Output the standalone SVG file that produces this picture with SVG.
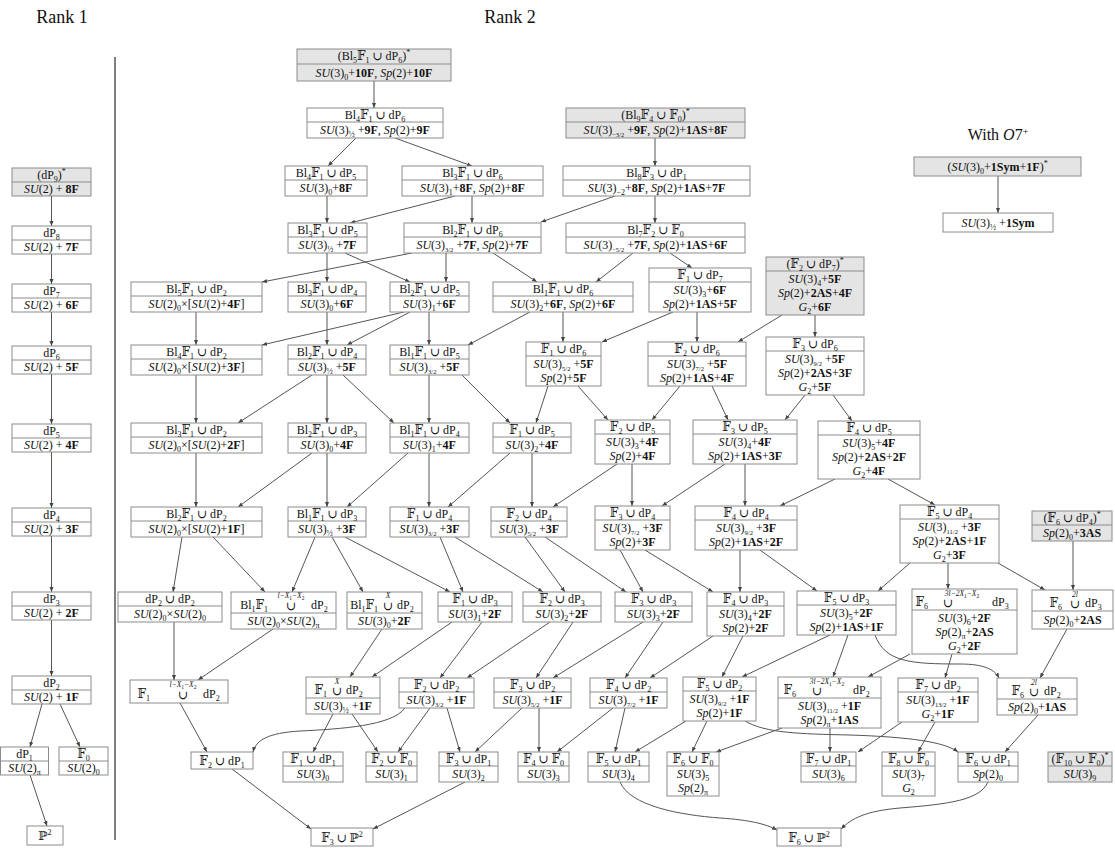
<svg xmlns="http://www.w3.org/2000/svg" width="1115" height="848" viewBox="0 0 1115 848">
<defs>
<style>
text{font-family:"Liberation Serif","DejaVu Serif",serif;font-size:12px;fill:#111;text-anchor:middle}
.box{fill:#fff;stroke:#8c8c8c;stroke-width:1}
.g{fill:#e4e4e4}
.sep{stroke:#8c8c8c;stroke-width:1}
.e{fill:none;stroke:#555;stroke-width:1;marker-end:url(#a)}
.i{font-style:italic}
.b{font-weight:bold}
.s{font-size:8px;baseline-shift:-3px}
.f{font-size:6.5px;baseline-shift:-3px}
.p{font-size:8px;baseline-shift:5px}
.c{font-size:7.5px;font-style:italic}
.q{font-size:5.5px;font-style:normal;baseline-shift:-1.5px}
.l{text-anchor:end}
.r{text-anchor:start}
.h{font-size:18px}
</style>
<marker id="a" viewBox="0 0 10 10" refX="10" refY="5" markerWidth="5" markerHeight="5" orient="auto"><path d="M0,1 L10,5 L0,9 z" fill="#444"/></marker>
</defs>
<rect width="1115" height="848" fill="#fff"/>
<g id="titles">
<text class="h" x="62" y="23">Rank 1</text>
<text class="h" x="510" y="23">Rank 2</text>
<text x="998" y="140" style="font-size:16px">With <tspan class="i">O</tspan>7<tspan class="p" style="font-size:10px">+</tspan></text>
<line x1="115" y1="57" x2="115" y2="840" stroke="#555" stroke-width="1.5"/>
</g>
<g id="edges">
<path class="e" d="M51.5,196V226"/>
<path class="e" d="M51.5,254V284"/>
<path class="e" d="M51.5,312V346"/>
<path class="e" d="M51.5,374V424"/>
<path class="e" d="M51.5,452V508"/>
<path class="e" d="M51.5,536V592"/>
<path class="e" d="M51.5,620V676"/>
<path class="e" d="M42,704L30,747"/>
<path class="e" d="M60,704L80,747"/>
<path class="e" d="M30,775L47,826"/>
<path class="e" d="M998,176V213"/>
<path class="e" d="M374,81V108"/>
<path class="e" d="M356,138L328,166"/>
<path class="e" d="M395,138L472,166"/>
<path class="e" d="M327,196V223"/>
<path class="e" d="M455,196L350,223"/>
<path class="e" d="M472,196V223"/>
<path class="e" d="M655,138V166"/>
<path class="e" d="M615,196L541,222"/>
<path class="e" d="M655,196V223"/>
<path class="e" d="M327,253V282"/>
<path class="e" d="M345,253L410,282"/>
<path class="e" d="M412,253L262,282"/>
<path class="e" d="M446,253V282"/>
<path class="e" d="M493,253L537,282"/>
<path class="e" d="M633,253L596,282"/>
<path class="e" d="M670,253L692,268"/>
<path class="e" d="M196,312V345"/>
<path class="e" d="M327,312V345"/>
<path class="e" d="M404,312L262,345"/>
<path class="e" d="M410,312L347,345"/>
<path class="e" d="M429,312V345"/>
<path class="e" d="M530,312L468,345"/>
<path class="e" d="M563,312V342"/>
<path class="e" d="M673,312L602,342"/>
<path class="e" d="M697,312V342"/>
<path class="e" d="M782,315L738,342"/>
<path class="e" d="M815,315V337"/>
<path class="e" d="M196,375V423"/>
<path class="e" d="M312,375L238,423"/>
<path class="e" d="M327,375V423"/>
<path class="e" d="M343,375L394,423"/>
<path class="e" d="M429,375V423"/>
<path class="e" d="M462,375L510,423"/>
<path class="e" d="M548,386L536,423"/>
<path class="e" d="M578,386L608,420"/>
<path class="e" d="M680,386L652,420"/>
<path class="e" d="M712,386L728,420"/>
<path class="e" d="M805,395L785,420"/>
<path class="e" d="M833,395L852,421"/>
<path class="e" d="M196,453V507"/>
<path class="e" d="M312,453L238,507"/>
<path class="e" d="M327,453V507"/>
<path class="e" d="M408,453L347,507"/>
<path class="e" d="M429,453V507"/>
<path class="e" d="M510,453L448,507"/>
<path class="e" d="M532,453V507"/>
<path class="e" d="M617,464L553,507"/>
<path class="e" d="M632,464V506"/>
<path class="e" d="M725,464L662,506"/>
<path class="e" d="M745,464V506"/>
<path class="e" d="M835,479L780,506"/>
<path class="e" d="M888,479L935,505"/>
<path class="e" d="M182,537L173,592"/>
<path class="e" d="M213,537L265,592"/>
<path class="e" d="M315,537L292,592"/>
<path class="e" d="M332,537L363,592"/>
<path class="e" d="M345,537L450,592"/>
<path class="e" d="M440,537L463,592"/>
<path class="e" d="M455,537L543,592"/>
<path class="e" d="M525,537L565,592"/>
<path class="e" d="M545,537L626,592"/>
<path class="e" d="M620,550L643,592"/>
<path class="e" d="M645,550L713,592"/>
<path class="e" d="M740,550V592"/>
<path class="e" d="M760,550L817,591"/>
<path class="e" d="M910,563L878,591"/>
<path class="e" d="M948,563V589"/>
<path class="e" d="M998,563L1045,590"/>
<path class="e" d="M1073,541V590"/>
<path class="e" d="M174,622V680"/>
<path class="e" d="M273,629L198,680"/>
<path class="e" d="M382,629L350,677"/>
<path class="e" d="M452,622L372,677"/>
<path class="e" d="M482,622L440,678"/>
<path class="e" d="M550,622L467,678"/>
<path class="e" d="M573,622L536,678"/>
<path class="e" d="M643,622L553,678"/>
<path class="e" d="M663,622L625,678"/>
<path class="e" d="M713,636L650,678"/>
<path class="e" d="M743,636L722,677"/>
<path class="e" d="M830,635L742,677"/>
<path class="e" d="M848,635L833,677"/>
<path class="e" d="M875,635C885,662 910,664 960,664C985,664 995,670 999,678"/>
<path class="e" d="M910,654L868,677"/>
<path class="e" d="M952,654L945,678"/>
<path class="e" d="M1067,629L1040,678"/>
<path class="e" d="M180,703L207,752"/>
<path class="e" d="M405,708C392,726 340,729 300,731C268,733 256,740 253,752"/>
<path class="e" d="M333,714L313,752"/>
<path class="e" d="M352,714L378,752"/>
<path class="e" d="M430,708L398,752"/>
<path class="e" d="M447,708L460,752"/>
<path class="e" d="M522,708L475,752"/>
<path class="e" d="M539,708V752"/>
<path class="e" d="M613,708L557,752"/>
<path class="e" d="M625,708L615,752"/>
<path class="e" d="M686,721L635,752"/>
<path class="e" d="M707,721L692,752"/>
<path class="e" d="M745,721C765,733 800,734 850,735C910,737 945,742 958,752"/>
<path class="e" d="M782,728L716,752"/>
<path class="e" d="M830,728V752"/>
<path class="e" d="M902,722L858,752"/>
<path class="e" d="M935,722L918,752"/>
<path class="e" d="M1038,715L1005,752"/>
<path class="e" d="M232,769L311,829"/>
<path class="e" d="M465,782L373,829"/>
<path class="e" d="M620,782C630,806 680,815 720,818C750,820 766,824 777,830"/>
<path class="e" d="M988,782C980,800 950,804 900,808C866,811 852,818 841,829"/>
</g>
<g id="rank1">
<g id="dP9"><rect class="box g" x="12" y="168" width="79" height="28"/><line class="sep" x1="12" y1="182" x2="91" y2="182"/><text x="51.5" y="179">(dP<tspan class="s">9</tspan>)<tspan class="p">*</tspan></text><text x="51.5" y="193"><tspan class="i">SU</tspan>(2) + <tspan class="b">8F</tspan></text></g>
<g id="dP8"><rect class="box" x="12" y="226" width="79" height="28"/><line class="sep" x1="12" y1="240" x2="91" y2="240"/><text x="51.5" y="237">dP<tspan class="s">8</tspan></text><text x="51.5" y="251"><tspan class="i">SU</tspan>(2) + <tspan class="b">7F</tspan></text></g>
<g id="dP7"><rect class="box" x="12" y="284" width="79" height="28"/><line class="sep" x1="12" y1="298" x2="91" y2="298"/><text x="51.5" y="295">dP<tspan class="s">7</tspan></text><text x="51.5" y="309"><tspan class="i">SU</tspan>(2) + <tspan class="b">6F</tspan></text></g>
<g id="dP6"><rect class="box" x="12" y="346" width="79" height="28"/><line class="sep" x1="12" y1="360" x2="91" y2="360"/><text x="51.5" y="357">dP<tspan class="s">6</tspan></text><text x="51.5" y="371"><tspan class="i">SU</tspan>(2) + <tspan class="b">5F</tspan></text></g>
<g id="dP5"><rect class="box" x="12" y="424" width="79" height="28"/><line class="sep" x1="12" y1="438" x2="91" y2="438"/><text x="51.5" y="435">dP<tspan class="s">5</tspan></text><text x="51.5" y="449"><tspan class="i">SU</tspan>(2) + <tspan class="b">4F</tspan></text></g>
<g id="dP4"><rect class="box" x="12" y="508" width="79" height="28"/><line class="sep" x1="12" y1="522" x2="91" y2="522"/><text x="51.5" y="519">dP<tspan class="s">4</tspan></text><text x="51.5" y="533"><tspan class="i">SU</tspan>(2) + <tspan class="b">3F</tspan></text></g>
<g id="dP3"><rect class="box" x="12" y="592" width="79" height="28"/><line class="sep" x1="12" y1="606" x2="91" y2="606"/><text x="51.5" y="603">dP<tspan class="s">3</tspan></text><text x="51.5" y="617"><tspan class="i">SU</tspan>(2) + <tspan class="b">2F</tspan></text></g>
<g id="dP2"><rect class="box" x="12" y="676" width="79" height="28"/><line class="sep" x1="12" y1="690" x2="91" y2="690"/><text x="51.5" y="687">dP<tspan class="s">2</tspan></text><text x="51.5" y="701"><tspan class="i">SU</tspan>(2) + <tspan class="b">1F</tspan></text></g>
<g id="dP1"><rect class="box" x="0.5" y="747" width="48" height="28"/><line class="sep" x1="0.5" y1="761" x2="48.5" y2="761"/><text x="24.5" y="758">dP<tspan class="s">1</tspan></text><text x="24.5" y="772"><tspan class="i">SU</tspan>(2)<tspan class="s">π</tspan></text></g>
<g id="F0"><rect class="box" x="59" y="747" width="49" height="28"/><line class="sep" x1="59" y1="761" x2="108" y2="761"/><text x="83.5" y="758">𝔽<tspan class="s">0</tspan></text><text x="83.5" y="772"><tspan class="i">SU</tspan>(2)<tspan class="s">0</tspan></text></g>
<g id="P2r1"><rect class="box" x="27" y="826" width="36" height="19"/><text x="45" y="840">ℙ<tspan class="p">2</tspan></text></g>
</g>
<g id="o7">
<g id="o7a"><rect class="box g" x="914" y="157" width="167" height="19"/><text x="997.5" y="171">(<tspan class="i">SU</tspan>(3)<tspan class="s">0</tspan>+<tspan class="b">1Sym</tspan>+<tspan class="b">1F</tspan>)<tspan class="p">*</tspan></text></g>
<g id="o7b"><rect class="box" x="943" y="213" width="110" height="19"/><text x="998" y="227"><tspan class="i">SU</tspan>(3)<tspan class="s">½</tspan> +<tspan class="b">1Sym</tspan></text></g>
</g>
<g id="rank2">
<g id="N1"><rect class="box g" x="297" y="49" width="154" height="32"/><line class="sep" x1="297" y1="64" x2="451" y2="64"/><text x="374" y="60">(Bl<tspan class="s">5</tspan>𝔽<tspan class="s">1</tspan> ∪ dP<tspan class="s">6</tspan>)<tspan class="p">*</tspan></text><text x="374" y="77"><tspan class="i">SU</tspan>(3)<tspan class="s">0</tspan>+<tspan class="b">10F</tspan>, <tspan class="i">Sp</tspan>(2)+<tspan class="b">10F</tspan></text></g>
<g id="N2"><rect class="box" x="307" y="108" width="136" height="30"/><line class="sep" x1="307" y1="122" x2="443" y2="122"/><text x="375" y="119">Bl<tspan class="s">4</tspan>𝔽<tspan class="s">1</tspan> ∪ dP<tspan class="s">6</tspan></text><text x="375" y="134"><tspan class="i">SU</tspan>(3)<tspan class="s">½</tspan> +<tspan class="b">9F</tspan>, <tspan class="i">Sp</tspan>(2)+<tspan class="b">9F</tspan></text></g>
<g id="N3"><rect class="box" x="285" y="166" width="82" height="30"/><line class="sep" x1="285" y1="180" x2="367" y2="180"/><text x="326" y="177">Bl<tspan class="s">4</tspan>𝔽<tspan class="s">1</tspan> ∪ dP<tspan class="s">5</tspan></text><text x="326" y="192"><tspan class="i">SU</tspan>(3)<tspan class="s">0</tspan>+<tspan class="b">8F</tspan></text></g>
<g id="N4"><rect class="box" x="402" y="166" width="141" height="30"/><line class="sep" x1="402" y1="180" x2="543" y2="180"/><text x="472.5" y="177">Bl<tspan class="s">3</tspan>𝔽<tspan class="s">1</tspan> ∪ dP<tspan class="s">6</tspan></text><text x="472.5" y="192"><tspan class="i">SU</tspan>(3)<tspan class="s">1</tspan>+<tspan class="b">8F</tspan>, <tspan class="i">Sp</tspan>(2)+<tspan class="b">8F</tspan></text></g>
<g id="N5"><rect class="box" x="288" y="223" width="79" height="30"/><line class="sep" x1="288" y1="237" x2="367" y2="237"/><text x="327.5" y="234">Bl<tspan class="s">3</tspan>𝔽<tspan class="s">1</tspan> ∪ dP<tspan class="s">5</tspan></text><text x="327.5" y="249"><tspan class="i">SU</tspan>(3)<tspan class="s">½</tspan> +<tspan class="b">7F</tspan></text></g>
<g id="N6"><rect class="box" x="404" y="223" width="137" height="30"/><line class="sep" x1="404" y1="237" x2="541" y2="237"/><text x="472.5" y="234">Bl<tspan class="s">2</tspan>𝔽<tspan class="s">1</tspan> ∪ dP<tspan class="s">6</tspan></text><text x="472.5" y="249"><tspan class="i">SU</tspan>(3)<tspan class="f">3/2</tspan> +<tspan class="b">7F</tspan>, <tspan class="i">Sp</tspan>(2)+<tspan class="b">7F</tspan></text></g>
<g id="O1"><rect class="box g" x="566" y="108" width="179" height="30"/><line class="sep" x1="566" y1="122" x2="745" y2="122"/><text x="655.5" y="119">(Bl<tspan class="s">9</tspan>𝔽<tspan class="s">4</tspan> ∪ 𝔽<tspan class="s">0</tspan>)<tspan class="p">*</tspan></text><text x="655.5" y="134"><tspan class="i">SU</tspan>(3)<tspan class="f">−3/2</tspan> +<tspan class="b">9F</tspan>, <tspan class="i">Sp</tspan>(2)+<tspan class="b">1AS</tspan>+<tspan class="b">8F</tspan></text></g>
<g id="O2"><rect class="box" x="563" y="166" width="187" height="30"/><line class="sep" x1="563" y1="180" x2="750" y2="180"/><text x="656.5" y="177">Bl<tspan class="s">8</tspan>𝔽<tspan class="s">3</tspan> ∪ dP<tspan class="s">1</tspan></text><text x="656.5" y="192"><tspan class="i">SU</tspan>(3)<tspan class="s">−2</tspan>+<tspan class="b">8F</tspan>, <tspan class="i">Sp</tspan>(2)+<tspan class="b">1AS</tspan>+<tspan class="b">7F</tspan></text></g>
<g id="O3"><rect class="box" x="566" y="223" width="179" height="30"/><line class="sep" x1="566" y1="237" x2="745" y2="237"/><text x="655.5" y="234">Bl<tspan class="s">7</tspan>𝔽<tspan class="s">2</tspan> ∪ 𝔽<tspan class="s">0</tspan></text><text x="655.5" y="249"><tspan class="i">SU</tspan>(3)<tspan class="f">−5/2</tspan> +<tspan class="b">7F</tspan>, <tspan class="i">Sp</tspan>(2)+<tspan class="b">1AS</tspan>+<tspan class="b">6F</tspan></text></g>
<g id="P1"><rect class="box" x="131" y="282" width="131" height="30"/><line class="sep" x1="131" y1="296" x2="262" y2="296"/><text x="196.5" y="293">Bl<tspan class="s">5</tspan>𝔽<tspan class="s">1</tspan> ∪ dP<tspan class="s">2</tspan></text><text x="196.5" y="308"><tspan class="i">SU</tspan>(2)<tspan class="s">0</tspan>×[<tspan class="i">SU</tspan>(2)+<tspan class="b">4F</tspan>]</text></g>
<g id="P2"><rect class="box" x="288" y="282" width="78" height="30"/><line class="sep" x1="288" y1="296" x2="366" y2="296"/><text x="327" y="293">Bl<tspan class="s">3</tspan>𝔽<tspan class="s">1</tspan> ∪ dP<tspan class="s">4</tspan></text><text x="327" y="308"><tspan class="i">SU</tspan>(3)<tspan class="s">0</tspan>+<tspan class="b">6F</tspan></text></g>
<g id="P3"><rect class="box" x="390" y="282" width="79" height="30"/><line class="sep" x1="390" y1="296" x2="469" y2="296"/><text x="429.5" y="293">Bl<tspan class="s">2</tspan>𝔽<tspan class="s">1</tspan> ∪ dP<tspan class="s">5</tspan></text><text x="429.5" y="308"><tspan class="i">SU</tspan>(3)<tspan class="s">1</tspan>+<tspan class="b">6F</tspan></text></g>
<g id="P4"><rect class="box" x="493" y="282" width="140" height="30"/><line class="sep" x1="493" y1="296" x2="633" y2="296"/><text x="563" y="293">Bl<tspan class="s">1</tspan>𝔽<tspan class="s">1</tspan> ∪ dP<tspan class="s">6</tspan></text><text x="563" y="308"><tspan class="i">SU</tspan>(3)<tspan class="s">2</tspan>+<tspan class="b">6F</tspan>, <tspan class="i">Sp</tspan>(2)+<tspan class="b">6F</tspan></text></g>
<g id="P5"><rect class="box" x="649" y="268" width="102" height="44"/><line class="sep" x1="649" y1="282" x2="751" y2="282"/><text x="700" y="279">𝔽<tspan class="s">1</tspan> ∪ dP<tspan class="s">7</tspan></text><text x="700" y="294"><tspan class="i">SU</tspan>(3)<tspan class="s">3</tspan>+<tspan class="b">6F</tspan></text><text x="700" y="308"><tspan class="i">Sp</tspan>(2)+<tspan class="b">1AS</tspan>+<tspan class="b">5F</tspan></text></g>
<g id="P6"><rect class="box g" x="766" y="257" width="98" height="58"/><line class="sep" x1="766" y1="271" x2="864" y2="271"/><text x="815" y="268">(𝔽<tspan class="s">2</tspan> ∪ dP<tspan class="s">7</tspan>)<tspan class="p">*</tspan></text><text x="815" y="283"><tspan class="i">SU</tspan>(3)<tspan class="s">4</tspan>+<tspan class="b">5F</tspan></text><text x="815" y="297"><tspan class="i">Sp</tspan>(2)+<tspan class="b">2AS</tspan>+<tspan class="b">4F</tspan></text><text x="815" y="311"><tspan class="i">G</tspan><tspan class="s">2</tspan>+<tspan class="b">6F</tspan></text></g>
<g id="Q1"><rect class="box" x="131" y="345" width="131" height="30"/><line class="sep" x1="131" y1="359" x2="262" y2="359"/><text x="196.5" y="356">Bl<tspan class="s">4</tspan>𝔽<tspan class="s">1</tspan> ∪ dP<tspan class="s">2</tspan></text><text x="196.5" y="371"><tspan class="i">SU</tspan>(2)<tspan class="s">0</tspan>×[<tspan class="i">SU</tspan>(2)+<tspan class="b">3F</tspan>]</text></g>
<g id="Q2"><rect class="box" x="288" y="345" width="78" height="30"/><line class="sep" x1="288" y1="359" x2="366" y2="359"/><text x="327" y="356">Bl<tspan class="s">2</tspan>𝔽<tspan class="s">1</tspan> ∪ dP<tspan class="s">4</tspan></text><text x="327" y="371"><tspan class="i">SU</tspan>(3)<tspan class="s">½</tspan> +<tspan class="b">5F</tspan></text></g>
<g id="Q3"><rect class="box" x="390" y="345" width="79" height="30"/><line class="sep" x1="390" y1="359" x2="469" y2="359"/><text x="429.5" y="356">Bl<tspan class="s">1</tspan>𝔽<tspan class="s">1</tspan> ∪ dP<tspan class="s">5</tspan></text><text x="429.5" y="371"><tspan class="i">SU</tspan>(3)<tspan class="f">3/2</tspan> +<tspan class="b">5F</tspan></text></g>
<g id="Q4"><rect class="box" x="526" y="342" width="75" height="44"/><line class="sep" x1="526" y1="356" x2="601" y2="356"/><text x="563.5" y="353">𝔽<tspan class="s">1</tspan> ∪ dP<tspan class="s">6</tspan></text><text x="563.5" y="368"><tspan class="i">SU</tspan>(3)<tspan class="f">5/2</tspan> +<tspan class="b">5F</tspan></text><text x="563.5" y="382"><tspan class="i">Sp</tspan>(2)+<tspan class="b">5F</tspan></text></g>
<g id="Q5"><rect class="box" x="648" y="342" width="98" height="44"/><line class="sep" x1="648" y1="356" x2="746" y2="356"/><text x="697" y="353">𝔽<tspan class="s">2</tspan> ∪ dP<tspan class="s">6</tspan></text><text x="697" y="368"><tspan class="i">SU</tspan>(3)<tspan class="f">7/2</tspan> +<tspan class="b">5F</tspan></text><text x="697" y="382"><tspan class="i">Sp</tspan>(2)+<tspan class="b">1AS</tspan>+<tspan class="b">4F</tspan></text></g>
<g id="Q6"><rect class="box" x="766" y="337" width="98" height="58"/><line class="sep" x1="766" y1="351" x2="864" y2="351"/><text x="815" y="348">𝔽<tspan class="s">3</tspan> ∪ dP<tspan class="s">6</tspan></text><text x="815" y="363"><tspan class="i">SU</tspan>(3)<tspan class="f">9/2</tspan> +<tspan class="b">5F</tspan></text><text x="815" y="377"><tspan class="i">Sp</tspan>(2)+<tspan class="b">2AS</tspan>+<tspan class="b">3F</tspan></text><text x="815" y="391"><tspan class="i">G</tspan><tspan class="s">2</tspan>+<tspan class="b">5F</tspan></text></g>
<g id="R1"><rect class="box" x="131" y="423" width="131" height="30"/><line class="sep" x1="131" y1="437" x2="262" y2="437"/><text x="196.5" y="434">Bl<tspan class="s">3</tspan>𝔽<tspan class="s">1</tspan> ∪ dP<tspan class="s">2</tspan></text><text x="196.5" y="449"><tspan class="i">SU</tspan>(2)<tspan class="s">0</tspan>×[<tspan class="i">SU</tspan>(2)+<tspan class="b">2F</tspan>]</text></g>
<g id="R2"><rect class="box" x="288" y="423" width="78" height="30"/><line class="sep" x1="288" y1="437" x2="366" y2="437"/><text x="327" y="434">Bl<tspan class="s">2</tspan>𝔽<tspan class="s">1</tspan> ∪ dP<tspan class="s">3</tspan></text><text x="327" y="449"><tspan class="i">SU</tspan>(3)<tspan class="s">0</tspan>+<tspan class="b">4F</tspan></text></g>
<g id="R3"><rect class="box" x="390" y="423" width="79" height="30"/><line class="sep" x1="390" y1="437" x2="469" y2="437"/><text x="429.5" y="434">Bl<tspan class="s">1</tspan>𝔽<tspan class="s">1</tspan> ∪ dP<tspan class="s">4</tspan></text><text x="429.5" y="449"><tspan class="i">SU</tspan>(3)<tspan class="s">1</tspan>+<tspan class="b">4F</tspan></text></g>
<g id="R4"><rect class="box" x="493" y="423" width="78" height="30"/><line class="sep" x1="493" y1="437" x2="571" y2="437"/><text x="532" y="434">𝔽<tspan class="s">1</tspan> ∪ dP<tspan class="s">5</tspan></text><text x="532" y="449"><tspan class="i">SU</tspan>(3)<tspan class="s">2</tspan>+<tspan class="b">4F</tspan></text></g>
<g id="R5"><rect class="box" x="595" y="420" width="75" height="44"/><line class="sep" x1="595" y1="434" x2="670" y2="434"/><text x="632.5" y="431">𝔽<tspan class="s">2</tspan> ∪ dP<tspan class="s">5</tspan></text><text x="632.5" y="446"><tspan class="i">SU</tspan>(3)<tspan class="s">3</tspan>+<tspan class="b">4F</tspan></text><text x="632.5" y="460"><tspan class="i">Sp</tspan>(2)+<tspan class="b">4F</tspan></text></g>
<g id="R6"><rect class="box" x="693" y="420" width="104" height="44"/><line class="sep" x1="693" y1="434" x2="797" y2="434"/><text x="745" y="431">𝔽<tspan class="s">3</tspan> ∪ dP<tspan class="s">5</tspan></text><text x="745" y="446"><tspan class="i">SU</tspan>(3)<tspan class="s">4</tspan>+<tspan class="b">4F</tspan></text><text x="745" y="460"><tspan class="i">Sp</tspan>(2)+<tspan class="b">1AS</tspan>+<tspan class="b">3F</tspan></text></g>
<g id="R7"><rect class="box" x="818" y="421" width="102" height="58"/><line class="sep" x1="818" y1="435" x2="920" y2="435"/><text x="869" y="432">𝔽<tspan class="s">4</tspan> ∪ dP<tspan class="s">5</tspan></text><text x="869" y="447"><tspan class="i">SU</tspan>(3)<tspan class="s">5</tspan>+<tspan class="b">4F</tspan></text><text x="869" y="461"><tspan class="i">Sp</tspan>(2)+<tspan class="b">2AS</tspan>+<tspan class="b">2F</tspan></text><text x="869" y="475"><tspan class="i">G</tspan><tspan class="s">2</tspan>+<tspan class="b">4F</tspan></text></g>
<g id="S1"><rect class="box" x="131" y="507" width="131" height="30"/><line class="sep" x1="131" y1="521" x2="262" y2="521"/><text x="196.5" y="518">Bl<tspan class="s">2</tspan>𝔽<tspan class="s">1</tspan> ∪ dP<tspan class="s">2</tspan></text><text x="196.5" y="533"><tspan class="i">SU</tspan>(2)<tspan class="s">0</tspan>×[<tspan class="i">SU</tspan>(2)+<tspan class="b">1F</tspan>]</text></g>
<g id="S2"><rect class="box" x="288" y="507" width="78" height="30"/><line class="sep" x1="288" y1="521" x2="366" y2="521"/><text x="327" y="518">Bl<tspan class="s">1</tspan>𝔽<tspan class="s">1</tspan> ∪ dP<tspan class="s">3</tspan></text><text x="327" y="533"><tspan class="i">SU</tspan>(3)<tspan class="s">½</tspan> +<tspan class="b">3F</tspan></text></g>
<g id="S3"><rect class="box" x="390" y="507" width="79" height="30"/><line class="sep" x1="390" y1="521" x2="469" y2="521"/><text x="429.5" y="518">𝔽<tspan class="s">1</tspan> ∪ dP<tspan class="s">4</tspan></text><text x="429.5" y="533"><tspan class="i">SU</tspan>(3)<tspan class="f">3/2</tspan> +<tspan class="b">3F</tspan></text></g>
<g id="S4"><rect class="box" x="491" y="507" width="76" height="30"/><line class="sep" x1="491" y1="521" x2="567" y2="521"/><text x="529" y="518">𝔽<tspan class="s">2</tspan> ∪ dP<tspan class="s">4</tspan></text><text x="529" y="533"><tspan class="i">SU</tspan>(3)<tspan class="f">5/2</tspan> +<tspan class="b">3F</tspan></text></g>
<g id="S5"><rect class="box" x="595" y="506" width="75" height="44"/><line class="sep" x1="595" y1="520" x2="670" y2="520"/><text x="632.5" y="517">𝔽<tspan class="s">3</tspan> ∪ dP<tspan class="s">4</tspan></text><text x="632.5" y="532"><tspan class="i">SU</tspan>(3)<tspan class="f">7/2</tspan> +<tspan class="b">3F</tspan></text><text x="632.5" y="546"><tspan class="i">Sp</tspan>(2)+<tspan class="b">3F</tspan></text></g>
<g id="S6"><rect class="box" x="695" y="506" width="102" height="44"/><line class="sep" x1="695" y1="520" x2="797" y2="520"/><text x="746" y="517">𝔽<tspan class="s">4</tspan> ∪ dP<tspan class="s">4</tspan></text><text x="746" y="532"><tspan class="i">SU</tspan>(3)<tspan class="f">9/2</tspan> +<tspan class="b">3F</tspan></text><text x="746" y="546"><tspan class="i">Sp</tspan>(2)+<tspan class="b">1AS</tspan>+<tspan class="b">2F</tspan></text></g>
<g id="S7"><rect class="box" x="900" y="505" width="99" height="58"/><line class="sep" x1="900" y1="519" x2="999" y2="519"/><text x="949.5" y="516">𝔽<tspan class="s">5</tspan> ∪ dP<tspan class="s">4</tspan></text><text x="949.5" y="531"><tspan class="i">SU</tspan>(3)<tspan class="f">11/2</tspan> +<tspan class="b">3F</tspan></text><text x="949.5" y="545"><tspan class="i">Sp</tspan>(2)+<tspan class="b">2AS</tspan>+<tspan class="b">1F</tspan></text><text x="949.5" y="559"><tspan class="i">G</tspan><tspan class="s">2</tspan>+<tspan class="b">3F</tspan></text></g>
<g id="S8"><rect class="box g" x="1032" y="511" width="80" height="30"/><line class="sep" x1="1032" y1="525" x2="1112" y2="525"/><text x="1072" y="522">(𝔽<tspan class="s">6</tspan> ∪ dP<tspan class="s">4</tspan>)<tspan class="p">*</tspan></text><text x="1072" y="537"><tspan class="i">Sp</tspan>(2)<tspan class="s">0</tspan>+<tspan class="b">3AS</tspan></text></g>
<g id="T1"><rect class="box" x="118" y="592" width="104" height="30"/><line class="sep" x1="118" y1="606" x2="222" y2="606"/><text x="170" y="603">dP<tspan class="s">2</tspan> ∪ dP<tspan class="s">2</tspan></text><text x="170" y="618"><tspan class="i">SU</tspan>(2)<tspan class="s">0</tspan>×<tspan class="i">SU</tspan>(2)<tspan class="s">0</tspan></text></g>
<g id="T2"><rect class="box" x="231" y="592" width="105" height="37"/><line class="sep" x1="231" y1="613" x2="336" y2="613"/><text class="l" x="268" y="609">Bl<tspan class="s">1</tspan>𝔽<tspan class="s">1</tspan></text><text class="c" x="291" y="598">l−X<tspan class="q">1</tspan>−X<tspan class="q">2</tspan></text><text x="291" y="610">∪</text><text class="r" x="311" y="609">dP<tspan class="s">2</tspan></text><text x="283.5" y="625"><tspan class="i">SU</tspan>(2)<tspan class="s">0</tspan>×<tspan class="i">SU</tspan>(2)<tspan class="s">π</tspan></text></g>
<g id="T3"><rect class="box" x="347" y="592" width="75" height="37"/><line class="sep" x1="347" y1="613" x2="422" y2="613"/><text class="l" x="378" y="609">Bl<tspan class="s">1</tspan>𝔽<tspan class="s">1</tspan></text><text class="c" x="388" y="598">X</text><text x="388" y="610">∪</text><text class="r" x="397" y="609">dP<tspan class="s">2</tspan></text><text x="384.5" y="625"><tspan class="i">SU</tspan>(3)<tspan class="s">0</tspan>+<tspan class="b">2F</tspan></text></g>
<g id="T4"><rect class="box" x="438" y="592" width="74" height="30"/><line class="sep" x1="438" y1="606" x2="512" y2="606"/><text x="475" y="603">𝔽<tspan class="s">1</tspan> ∪ dP<tspan class="s">3</tspan></text><text x="475" y="618"><tspan class="i">SU</tspan>(3)<tspan class="s">1</tspan>+<tspan class="b">2F</tspan></text></g>
<g id="T5"><rect class="box" x="523" y="592" width="78" height="30"/><line class="sep" x1="523" y1="606" x2="601" y2="606"/><text x="562" y="603">𝔽<tspan class="s">2</tspan> ∪ dP<tspan class="s">3</tspan></text><text x="562" y="618"><tspan class="i">SU</tspan>(3)<tspan class="s">2</tspan>+<tspan class="b">2F</tspan></text></g>
<g id="T6"><rect class="box" x="615" y="592" width="77" height="30"/><line class="sep" x1="615" y1="606" x2="692" y2="606"/><text x="653.5" y="603">𝔽<tspan class="s">3</tspan> ∪ dP<tspan class="s">3</tspan></text><text x="653.5" y="618"><tspan class="i">SU</tspan>(3)<tspan class="s">3</tspan>+<tspan class="b">2F</tspan></text></g>
<g id="T7"><rect class="box" x="707" y="592" width="77" height="44"/><line class="sep" x1="707" y1="606" x2="784" y2="606"/><text x="745.5" y="603">𝔽<tspan class="s">4</tspan> ∪ dP<tspan class="s">3</tspan></text><text x="745.5" y="618"><tspan class="i">SU</tspan>(3)<tspan class="s">4</tspan>+<tspan class="b">2F</tspan></text><text x="745.5" y="632"><tspan class="i">Sp</tspan>(2)+<tspan class="b">2F</tspan></text></g>
<g id="T8"><rect class="box" x="797" y="591" width="99" height="44"/><line class="sep" x1="797" y1="605" x2="896" y2="605"/><text x="846.5" y="602">𝔽<tspan class="s">5</tspan> ∪ dP<tspan class="s">3</tspan></text><text x="846.5" y="617"><tspan class="i">SU</tspan>(3)<tspan class="s">5</tspan>+<tspan class="b">2F</tspan></text><text x="846.5" y="631"><tspan class="i">Sp</tspan>(2)+<tspan class="b">1AS</tspan>+<tspan class="b">1F</tspan></text></g>
<g id="T9"><rect class="box" x="912" y="589" width="105" height="65"/><line class="sep" x1="912" y1="610" x2="1017" y2="610"/><text class="l" x="928" y="606">𝔽<tspan class="s">6</tspan></text><text class="c" x="962" y="596">3l−2X<tspan class="q">1</tspan>−X<tspan class="q">2</tspan></text><text x="948" y="607">∪</text><text class="r" x="992" y="606">dP<tspan class="s">3</tspan></text><text x="964.5" y="622"><tspan class="i">SU</tspan>(3)<tspan class="s">6</tspan>+<tspan class="b">2F</tspan></text><text x="964.5" y="636"><tspan class="i">Sp</tspan>(2)<tspan class="s">π</tspan>+<tspan class="b">2AS</tspan></text><text x="964.5" y="650"><tspan class="i">G</tspan><tspan class="s">2</tspan>+<tspan class="b">2F</tspan></text></g>
<g id="T10"><rect class="box" x="1032" y="590" width="81" height="39"/><line class="sep" x1="1032" y1="611" x2="1113" y2="611"/><text class="l" x="1062" y="607">𝔽<tspan class="s">6</tspan></text><text class="c" x="1075" y="597">2l</text><text x="1075" y="608">∪</text><text class="r" x="1085" y="607">dP<tspan class="s">3</tspan></text><text x="1072.5" y="624"><tspan class="i">Sp</tspan>(2)<tspan class="s">0</tspan>+<tspan class="b">2AS</tspan></text></g>
<g id="U1"><rect class="box" x="130" y="680" width="98" height="23"/><text class="l" x="150" y="698">𝔽<tspan class="s">1</tspan></text><text class="c" x="183" y="687">l−X<tspan class="q">1</tspan>−X<tspan class="q">2</tspan></text><text x="183" y="699">∪</text><text class="r" x="203" y="698">dP<tspan class="s">2</tspan></text></g>
<g id="U2"><rect class="box" x="306" y="677" width="74" height="37"/><line class="sep" x1="306" y1="698" x2="380" y2="698"/><text class="l" x="327" y="694">𝔽<tspan class="s">1</tspan></text><text class="c" x="337" y="684">X</text><text x="337" y="695">∪</text><text class="r" x="346" y="694">dP<tspan class="s">2</tspan></text><text x="343" y="710"><tspan class="i">SU</tspan>(3)<tspan class="s">½</tspan> +<tspan class="b">1F</tspan></text></g>
<g id="U3"><rect class="box" x="399" y="678" width="75" height="30"/><line class="sep" x1="399" y1="692" x2="474" y2="692"/><text x="436.5" y="689">𝔽<tspan class="s">2</tspan> ∪ dP<tspan class="s">2</tspan></text><text x="436.5" y="704"><tspan class="i">SU</tspan>(3)<tspan class="f">3/2</tspan> +<tspan class="b">1F</tspan></text></g>
<g id="U4"><rect class="box" x="494" y="678" width="77" height="30"/><line class="sep" x1="494" y1="692" x2="571" y2="692"/><text x="532.5" y="689">𝔽<tspan class="s">3</tspan> ∪ dP<tspan class="s">2</tspan></text><text x="532.5" y="704"><tspan class="i">SU</tspan>(3)<tspan class="f">5/2</tspan> +<tspan class="b">1F</tspan></text></g>
<g id="U5"><rect class="box" x="590" y="678" width="77" height="30"/><line class="sep" x1="590" y1="692" x2="667" y2="692"/><text x="628.5" y="689">𝔽<tspan class="s">4</tspan> ∪ dP<tspan class="s">2</tspan></text><text x="628.5" y="704"><tspan class="i">SU</tspan>(3)<tspan class="f">7/2</tspan> +<tspan class="b">1F</tspan></text></g>
<g id="U6"><rect class="box" x="683" y="677" width="73" height="44"/><line class="sep" x1="683" y1="691" x2="756" y2="691"/><text x="719.5" y="688">𝔽<tspan class="s">5</tspan> ∪ dP<tspan class="s">2</tspan></text><text x="719.5" y="703"><tspan class="i">SU</tspan>(3)<tspan class="f">9/2</tspan> +<tspan class="b">1F</tspan></text><text x="719.5" y="717"><tspan class="i">Sp</tspan>(2)+<tspan class="b">1F</tspan></text></g>
<g id="U7"><rect class="box" x="778" y="677" width="103" height="51"/><line class="sep" x1="778" y1="698" x2="881" y2="698"/><text class="l" x="796" y="694">𝔽<tspan class="s">6</tspan></text><text class="c" x="827" y="684">3l−2X<tspan class="q">1</tspan>−X<tspan class="q">2</tspan></text><text x="817" y="695">∪</text><text class="r" x="853" y="694">dP<tspan class="s">2</tspan></text><text x="829.5" y="710"><tspan class="i">SU</tspan>(3)<tspan class="f">11/2</tspan> +<tspan class="b">1F</tspan></text><text x="829.5" y="724"><tspan class="i">Sp</tspan>(2)<tspan class="s">π</tspan>+<tspan class="b">1AS</tspan></text></g>
<g id="U8"><rect class="box" x="898" y="678" width="80" height="44"/><line class="sep" x1="898" y1="692" x2="978" y2="692"/><text x="938" y="689">𝔽<tspan class="s">7</tspan> ∪ dP<tspan class="s">2</tspan></text><text x="938" y="704"><tspan class="i">SU</tspan>(3)<tspan class="f">13/2</tspan> +<tspan class="b">1F</tspan></text><text x="938" y="718"><tspan class="i">G</tspan><tspan class="s">2</tspan>+<tspan class="b">1F</tspan></text></g>
<g id="U9"><rect class="box" x="997" y="678" width="80" height="37"/><line class="sep" x1="997" y1="699" x2="1077" y2="699"/><text class="l" x="1024" y="695">𝔽<tspan class="s">6</tspan></text><text class="c" x="1034" y="685">2l</text><text x="1034" y="696">∪</text><text class="r" x="1044" y="695">dP<tspan class="s">2</tspan></text><text x="1037" y="711"><tspan class="i">Sp</tspan>(2)<tspan class="s">0</tspan>+<tspan class="b">1AS</tspan></text></g>
<g id="V1"><rect class="box" x="191" y="752" width="62" height="17"/><text x="222" y="765">𝔽<tspan class="s">2</tspan> ∪ dP<tspan class="s">1</tspan></text></g>
<g id="V2"><rect class="box" x="283" y="752" width="60" height="30"/><line class="sep" x1="283" y1="766" x2="343" y2="766"/><text x="313" y="763">𝔽<tspan class="s">1</tspan> ∪ dP<tspan class="s">1</tspan></text><text x="313" y="778"><tspan class="i">SU</tspan>(3)<tspan class="s">0</tspan></text></g>
<g id="V3"><rect class="box" x="366" y="752" width="51" height="30"/><line class="sep" x1="366" y1="766" x2="417" y2="766"/><text x="391.5" y="763">𝔽<tspan class="s">2</tspan> ∪ 𝔽<tspan class="s">0</tspan></text><text x="391.5" y="778"><tspan class="i">SU</tspan>(3)<tspan class="s">1</tspan></text></g>
<g id="V4"><rect class="box" x="439" y="752" width="59" height="30"/><line class="sep" x1="439" y1="766" x2="498" y2="766"/><text x="468.5" y="763">𝔽<tspan class="s">3</tspan> ∪ dP<tspan class="s">1</tspan></text><text x="468.5" y="778"><tspan class="i">SU</tspan>(3)<tspan class="s">2</tspan></text></g>
<g id="V5"><rect class="box" x="518" y="752" width="51" height="30"/><line class="sep" x1="518" y1="766" x2="569" y2="766"/><text x="543.5" y="763">𝔽<tspan class="s">4</tspan> ∪ 𝔽<tspan class="s">0</tspan></text><text x="543.5" y="778"><tspan class="i">SU</tspan>(3)<tspan class="s">3</tspan></text></g>
<g id="V6"><rect class="box" x="588" y="752" width="61" height="30"/><line class="sep" x1="588" y1="766" x2="649" y2="766"/><text x="618.5" y="763">𝔽<tspan class="s">5</tspan> ∪ dP<tspan class="s">1</tspan></text><text x="618.5" y="778"><tspan class="i">SU</tspan>(3)<tspan class="s">4</tspan></text></g>
<g id="V7"><rect class="box" x="667" y="752" width="52" height="44"/><line class="sep" x1="667" y1="766" x2="719" y2="766"/><text x="693" y="763">𝔽<tspan class="s">6</tspan> ∪ 𝔽<tspan class="s">0</tspan></text><text x="693" y="778"><tspan class="i">SU</tspan>(3)<tspan class="s">5</tspan></text><text x="693" y="792"><tspan class="i">Sp</tspan>(2)<tspan class="s">π</tspan></text></g>
<g id="V8"><rect class="box" x="801" y="752" width="55" height="30"/><line class="sep" x1="801" y1="766" x2="856" y2="766"/><text x="828.5" y="763">𝔽<tspan class="s">7</tspan> ∪ dP<tspan class="s">1</tspan></text><text x="828.5" y="778"><tspan class="i">SU</tspan>(3)<tspan class="s">6</tspan></text></g>
<g id="V9"><rect class="box" x="882" y="752" width="53" height="44"/><line class="sep" x1="882" y1="766" x2="935" y2="766"/><text x="908.5" y="763">𝔽<tspan class="s">8</tspan> ∪ 𝔽<tspan class="s">0</tspan></text><text x="908.5" y="778"><tspan class="i">SU</tspan>(3)<tspan class="s">7</tspan></text><text x="908.5" y="792"><tspan class="i">G</tspan><tspan class="s">2</tspan></text></g>
<g id="V10"><rect class="box" x="958" y="752" width="60" height="30"/><line class="sep" x1="958" y1="766" x2="1018" y2="766"/><text x="988" y="763">𝔽<tspan class="s">6</tspan> ∪ dP<tspan class="s">1</tspan></text><text x="988" y="778"><tspan class="i">Sp</tspan>(2)<tspan class="s">0</tspan></text></g>
<g id="V11"><rect class="box g" x="1048" y="752" width="64" height="30"/><line class="sep" x1="1048" y1="766" x2="1112" y2="766"/><text x="1080" y="763">(𝔽<tspan class="s">10</tspan> ∪ 𝔽<tspan class="s">0</tspan>)<tspan class="p">*</tspan></text><text x="1080" y="778"><tspan class="i">SU</tspan>(3)<tspan class="s">9</tspan></text></g>
<g id="W1"><rect class="box" x="311" y="828" width="62" height="18"/><text x="342" y="842">𝔽<tspan class="s">3</tspan> ∪ ℙ<tspan class="p">2</tspan></text></g>
<g id="W2"><rect class="box" x="777" y="828" width="64" height="18"/><text x="809" y="842">𝔽<tspan class="s">6</tspan> ∪ ℙ<tspan class="p">2</tspan></text></g>
</g>
</svg>
